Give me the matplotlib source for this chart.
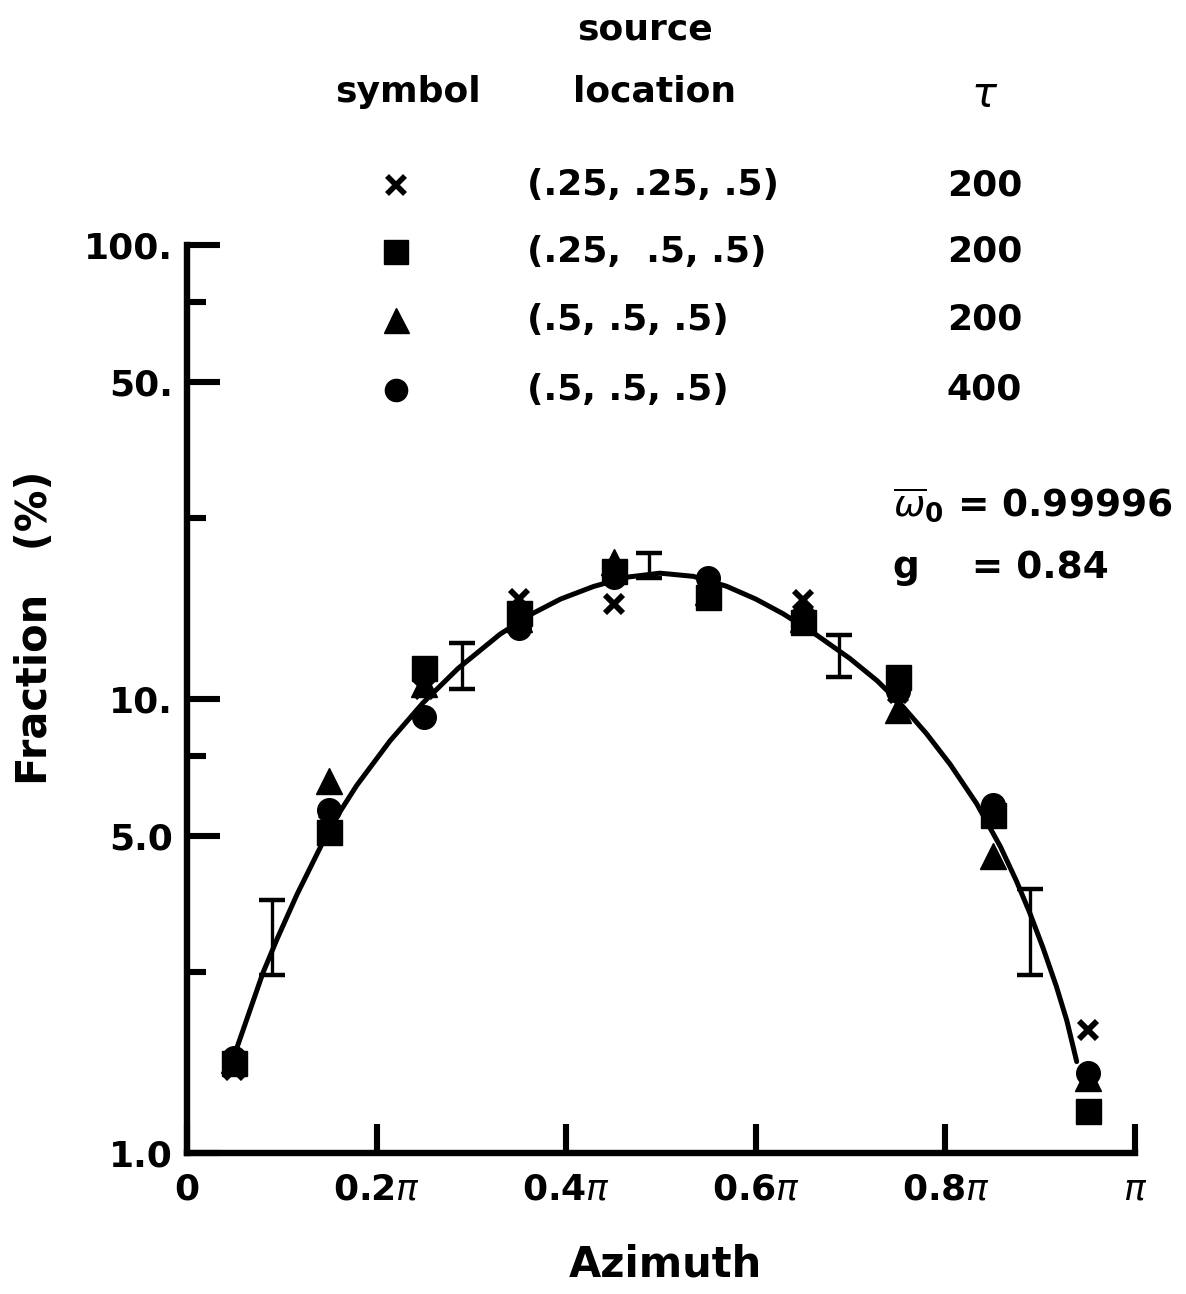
import numpy as np
import matplotlib
matplotlib.use("Agg")
import matplotlib.pyplot as plt
from matplotlib.lines import Line2D

# ---- data (azimuth in units of pi, fraction in percent) ----
azimuth = [0.05, 0.15, 0.25, 0.35, 0.45, 0.55, 0.65, 0.75, 0.85, 0.95]

frac_x_025_025 = [1.52, 5.3, 10.5, 16.6, 16.2, 17.5, 16.5, 10.3, 5.5, 1.87]
frac_sq_025_05 = [1.58, 5.1, 11.7, 15.5, 19.1, 16.8, 14.8, 11.2, 5.55, 1.24]
frac_tri_05_200 = [1.6, 6.6, 10.8, 15.0, 20.0, 17.2, 15.0, 9.45, 4.5, 1.46]
frac_dot_05_400 = [1.62, 5.69, 9.15, 14.3, 18.6, 18.5, 15.2, 10.4, 5.85, 1.5]

# error bars of the reference calculation
ebar_azimuth = [0.09, 0.29, 0.487, 0.688, 0.889]
ebar_low = [2.47, 10.5, 18.5, 11.2, 2.47]
ebar_high = [3.6, 13.3, 21.0, 13.8, 3.82]

# smooth theoretical curve
curve_azimuth = [0.052, 0.08, 0.095, 0.116, 0.144, 0.161, 0.179, 0.214, 0.249,
                 0.286, 0.33, 0.362, 0.394, 0.429, 0.464, 0.499, 0.534, 0.569,
                 0.60, 0.629, 0.664, 0.699, 0.728, 0.752, 0.780, 0.805, 0.833,
                 0.858, 0.875, 0.889, 0.903, 0.917, 0.928, 0.9385]
curve_frac = [1.69, 2.49, 2.96, 3.71, 4.87, 5.63, 6.45, 8.08, 9.81,
              11.68, 13.88, 15.33, 16.60, 17.70, 18.55, 18.93, 18.63, 17.72,
              16.6, 15.4, 13.84, 12.29, 10.97, 9.79, 8.39, 7.18, 5.88,
              4.73, 3.97, 3.38, 2.83, 2.33, 1.96, 1.59]

y_major = [1, 5, 10, 50, 100]
y_major_labels = ["1.0", "5.0", "10.", "50.", "100."]
y_minor = [2.5, 7.5, 25, 75]
x_ticks = [0, 0.2, 0.4, 0.6, 0.8, 1.0]
x_tick_labels = ["0", r"0.2$\pi$", r"0.4$\pi$", r"0.6$\pi$", r"0.8$\pi$", r"$\pi$"]

legend_rows = [
    ("x", "(.25, .25, .5)", "200"),
    ("s", "(.25,  .5, .5)", "200"),
    ("^", "(.5, .5, .5)", "200"),
    ("o", "(.5, .5, .5)", "400"),
]

# ---- style ----
plt.rcParams["font.family"] = ["DejaVu Sans"]
plt.rcParams["mathtext.fontset"] = "dejavusans"
FS = 26
W, H = 1186, 1294
fig = plt.figure(figsize=(W / 100, H / 100), dpi=100)
ax = fig.add_axes([187 / W, 1 - 1153 / H, (1135 - 187) / W, (1153 - 245) / H])

ax.set_yscale("log")
ax.set_xlim(0, 1)
ax.set_ylim(1, 100)

for side in ("top", "right"):
    ax.spines[side].set_visible(False)
for side in ("left", "bottom"):
    ax.spines[side].set_linewidth(4.6)
    ax.spines[side].set_capstyle("projecting")

ax.set_yticks(y_major)
ax.set_yticklabels(y_major_labels)
ax.set_yticks(y_minor, minor=True)
ax.yaxis.set_minor_formatter(matplotlib.ticker.NullFormatter())
ax.set_xticks(x_ticks)
ax.set_xticklabels(x_tick_labels)
ax.tick_params(axis="y", which="major", direction="in", length=24, width=4.4,
               pad=10, labelsize=FS)
ax.tick_params(axis="y", which="minor", direction="in", length=14, width=4.4)
ax.tick_params(axis="x", which="major", direction="in", length=21, width=4.4,
               pad=14, labelsize=FS)
for lab in ax.get_xticklabels() + ax.get_yticklabels():
    lab.set_fontweight("bold")

ax.set_ylabel("Fraction   (%)", fontsize=30, fontweight="bold")
ax.yaxis.set_label_coords(-0.138, 0.578)
ax.set_xlabel("Azimuth", fontsize=30, fontweight="bold")
ax.xaxis.set_label_coords(0.505, -0.100)

# curve
ax.plot(curve_azimuth, curve_frac, color="black", lw=3.6,
        solid_capstyle="round", solid_joinstyle="round", clip_on=False, zorder=2)

# error bars
ax.errorbar(ebar_azimuth, ebar_low,
            yerr=[np.zeros(len(ebar_low)), np.array(ebar_high) - np.array(ebar_low)],
            fmt="none", ecolor="black", elinewidth=2.4, capsize=9.5, capthick=3.2,
            zorder=3)

# symbols
ax.plot(azimuth, frac_x_025_025, ls="none", marker="x", ms=13, mew=4.2,
        color="black", clip_on=False, zorder=4)
ax.plot(azimuth, frac_sq_025_05, ls="none", marker="s", ms=18,
        color="black", clip_on=False, zorder=4)
ax.plot(azimuth, frac_tri_05_200, ls="none", marker="^", ms=19,
        color="black", clip_on=False, zorder=4)
ax.plot(azimuth, frac_dot_05_400, ls="none", marker="o", ms=17,
        color="black", clip_on=False, zorder=4)

# parameters
ax.text(0.745, 0.714, r"$\overline{\omega}_\mathbf{0}$ = 0.99996", transform=ax.transAxes,
        fontsize=FS + 1, fontweight="bold", va="center", ha="left")
ax.text(0.745, 0.644, "g    = 0.84", transform=ax.transAxes,
        fontsize=FS + 1, fontweight="bold", va="center", ha="left")

# symbol key
def fx(px):
    return px / W

def fy(py):
    return 1 - py / H

fig.text(fx(645), fy(30), "source", fontsize=FS, fontweight="bold", ha="center", va="center")
fig.text(fx(408), fy(92), "symbol", fontsize=FS, fontweight="bold", ha="center", va="center")
fig.text(fx(655), fy(92), "location", fontsize=FS, fontweight="bold", ha="center", va="center")
fig.text(fx(985), fy(95), r"$\tau$", fontsize=FS + 4, fontweight="bold", ha="center", va="center")

row_y = [185, 252, 320, 390]
marker_sizes = {"x": 13, "s": 17, "^": 18, "o": 16}
for (mk, loc, tau), py in zip(legend_rows, row_y):
    fig.add_artist(Line2D([fx(396)], [fy(py)], ls="none", marker=mk,
                          ms=marker_sizes[mk], mew=4.0 if mk == "x" else 1,
                          color="black", transform=fig.transFigure))
    fig.text(fx(527), fy(py), loc, fontsize=FS, fontweight="bold", ha="left", va="center")
    fig.text(fx(1022), fy(py), tau, fontsize=FS, fontweight="bold", ha="right", va="center")

fig.savefig("out.png", dpi=100)
